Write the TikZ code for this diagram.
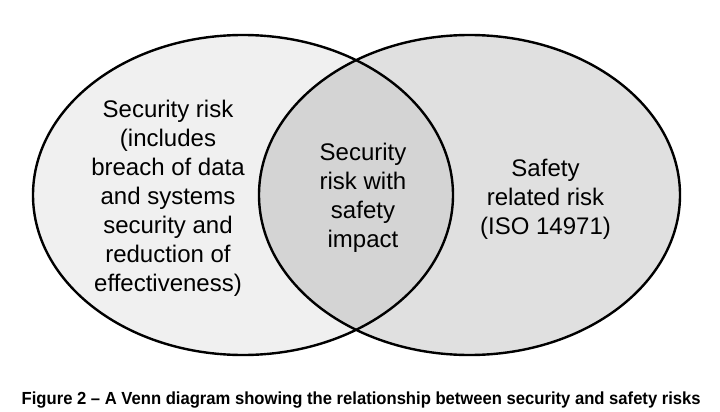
\documentclass[tikz,border=0pt]{standalone}
\usepackage{fontspec}
\setmainfont{Liberation Sans}
\usepackage{graphicx}
\begin{document}
\begin{tikzpicture}[x=1pt,y=-1pt,
  setline/.style={line width=2.4pt,draw=black},
  lbl/.style={align=center,font=\fontsize{24}{29}\selectfont,inner sep=0pt}]
\useasboundingbox[fill=white] (0,0) rectangle (720,412);
% fills
\fill[fill=black!6] (243,195) ellipse [x radius=210, y radius=160];
\fill[fill=black!12] (469.5,195) ellipse [x radius=210.5, y radius=160];
\begin{scope}
  \clip (243,195) ellipse [x radius=210, y radius=160];
  \fill[fill=black!17] (469.5,195) ellipse [x radius=210.5, y radius=160];
\end{scope}
% outlines
\draw[setline] (243,195) ellipse [x radius=210, y radius=160];
\draw[setline] (469.5,195) ellipse [x radius=210.5, y radius=160];
% labels
\node[lbl] (sec) at (168,198) {Security risk\\(includes\\breach of data\\and systems\\security and\\reduction of\\effectiveness)};
\node[lbl] (mid) at (363,198) {Security\\risk with\\safety\\impact};
\node[lbl] (saf) at (545.5,199) {Safety\\related risk\\(ISO 14971)};
\node[anchor=base west,inner sep=0pt] (cap) at (21.5,404) {\resizebox{679pt}{\height}{\fontsize{17.5}{20}\selectfont\bfseries Figure 2 -- A Venn diagram showing the relationship between security and safety risks}};
\end{tikzpicture}
\end{document}
